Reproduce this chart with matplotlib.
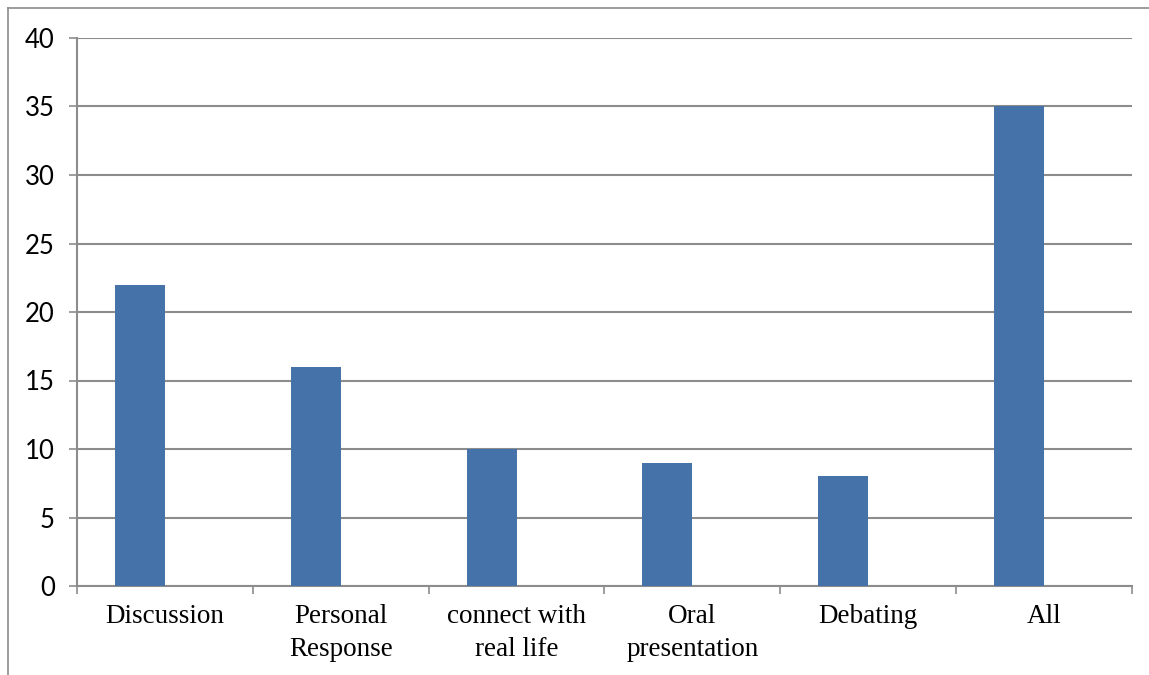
import numpy as np
import matplotlib.pyplot as plt
from matplotlib.lines import Line2D

# data
categories = ["Discussion", "Personal\nResponse", "connect with\nreal life",
              "Oral\npresentation", "Debating", "All"]
values = [22, 16, 10, 9, 8, 35]
yticks = [0, 5, 10, 15, 20, 25, 30, 35, 40]

BAR_COLOR = "#4573A9"
GRID = "#8c8c8c"

fig = plt.figure(figsize=(11.49, 6.75), dpi=100)
ax = fig.add_axes([77 / 1149, 1 - 586 / 675, (1132 - 77) / 1149, (586 - 38) / 675])

x = np.arange(len(categories))
# bar sits just left of the category centre (excel clustered look)
bw = 0.284
ax.bar(x - bw, values, width=bw, align="edge", color=BAR_COLOR, zorder=3)

ax.set_xlim(-0.5, len(categories) - 0.5)
ax.set_ylim(0, 40)

ax.set_yticks(yticks)
ax.set_yticklabels([str(v) for v in yticks], family="Lato", fontsize=18.5)
ax.yaxis.grid(True, color=GRID, linewidth=1.5, zorder=0)
ax.tick_params(axis="y", length=6, width=1.2, color=GRID, pad=10)

ax.set_xticks(x)
ax.set_xticklabels(categories, family="Liberation Serif", fontsize=19.5,
                   linespacing=1.4)
ax.set_xticks(np.arange(len(categories) + 1) - 0.5, minor=True)
ax.tick_params(axis="x", which="major", length=0, pad=13)
ax.tick_params(axis="x", which="minor", length=6, width=1.2, color=GRID)

for s in ["top", "right"]:
    ax.spines[s].set_visible(False)
for s in ["left", "bottom"]:
    ax.spines[s].set_color(GRID)
    ax.spines[s].set_linewidth(1.5)

# outer chart border (top and left edges visible)
fig.add_artist(Line2D([8 / 1149, 1], [1 - 8 / 675, 1 - 8 / 675], color=GRID, linewidth=1.2,
                      transform=fig.transFigure))
fig.add_artist(Line2D([8 / 1149, 8 / 1149], [0, 1 - 8 / 675], color=GRID, linewidth=1.2,
                      transform=fig.transFigure))

fig.savefig("out.png", dpi=100)
